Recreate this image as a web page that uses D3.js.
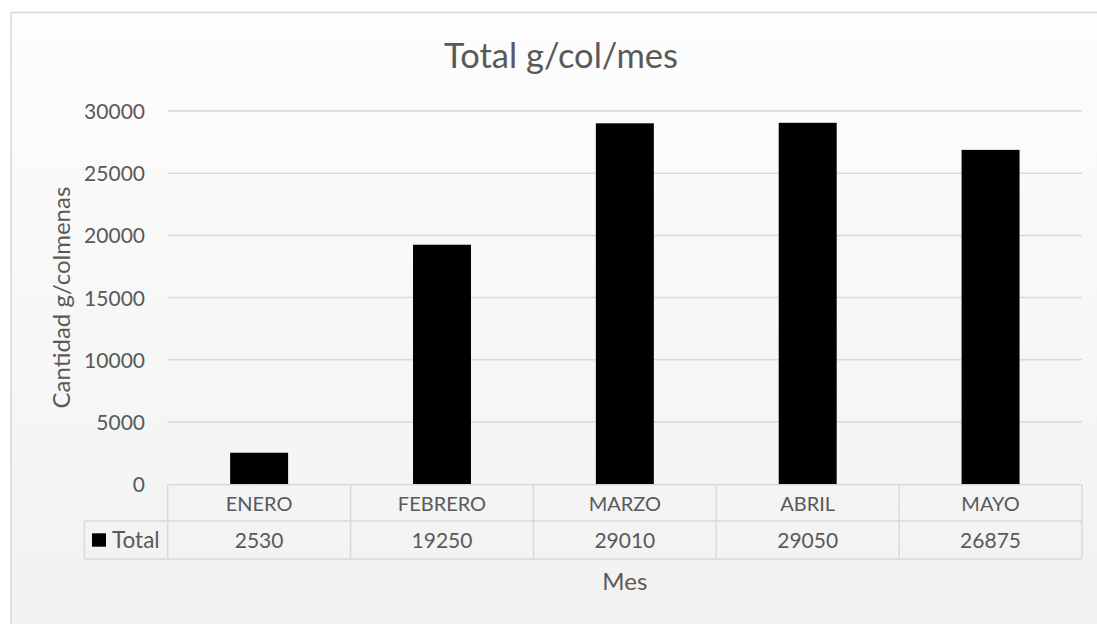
<!DOCTYPE html>
<html>
<head>
<meta charset="utf-8">
<script src="https://cdn.jsdelivr.net/npm/d3@7"></script>
<style>
  html, body { margin: 0; padding: 0; background: #ffffff; }
  svg { display: block; }
  text { font-family: Lato, "Open Sans", sans-serif; fill: #595959; }
</style>
</head>
<body>
<svg id="chart" width="1097" height="624"></svg>
<script>
const categories = ["ENERO", "FEBRERO", "MARZO", "ABRIL", "MAYO"];
const totals = [2530, 19250, 29010, 29050, 26875];
const yTicks = [0, 5000, 10000, 15000, 20000, 25000, 30000];
const seriesName = "Total";
const titleText = "Total g/col/mes";
const xTitle = "Mes";
const yTitle = "Cantidad g/colmenas";

const svg = d3.select("#chart");
const W = 1097, H = 624;

const defs = svg.append("defs");
const grad = defs.append("linearGradient").attr("id", "bg").attr("x1", 0).attr("y1", 0).attr("x2", 0).attr("y2", 1);
grad.append("stop").attr("offset", "0%").attr("stop-color", "#fdfdfd");
grad.append("stop").attr("offset", "100%").attr("stop-color", "#f1f1f1");

// chart area
svg.append("rect")
  .attr("x", 11).attr("y", 12.5).attr("width", W + 20).attr("height", H + 20)
  .attr("fill", "url(#bg)").attr("stroke", "#d9d9d9").attr("stroke-width", 1.5);

const plot = { left: 167.7, right: 1082, top: 111, bottom: 484.2 };

const x = d3.scaleBand().domain(categories).range([plot.left, plot.right]).paddingInner(0.683).paddingOuter(0.3415);
const xCol = d3.scaleBand().domain(categories).range([plot.left, plot.right]).padding(0);
const y = d3.scaleLinear().domain([0, 30000]).range([plot.bottom, plot.top]);

// gridlines
svg.append("g").selectAll("line").data(yTicks.filter(d => d > 0)).join("line")
  .attr("x1", plot.left).attr("x2", plot.right)
  .attr("y1", d => y(d)).attr("y2", d => y(d))
  .attr("stroke", "#d9d9d9").attr("stroke-width", 1.5);

// y axis ticks labels
const yAxis = d3.axisLeft(y).tickValues(yTicks).tickSize(0).tickPadding(0).tickFormat(d3.format("d"));
const yg = svg.append("g").attr("transform", `translate(145,0)`).call(yAxis);
yg.select(".domain").remove();
yg.selectAll("text").attr("font-size", 21).attr("font-family", "Lato, 'Open Sans', sans-serif").attr("fill", "#595959").attr("dy", "0.36em");

// bars
svg.append("g").selectAll("rect").data(totals).join("rect")
  .attr("x", (d, i) => x(categories[i]))
  .attr("width", x.bandwidth())
  .attr("y", d => y(d))
  .attr("height", d => y(0) - y(d))
  .attr("fill", "#000000");

// data table
const row1Top = 484.7, row1Bot = 521, row2Bot = 559, legLeft = 84.3;
const tbl = svg.append("g").attr("stroke", "#d9d9d9").attr("stroke-width", 1.5).attr("fill", "none");
tbl.append("line").attr("x1", plot.left).attr("x2", plot.right).attr("y1", row1Top).attr("y2", row1Top);
tbl.append("line").attr("x1", legLeft).attr("x2", plot.right).attr("y1", row1Bot).attr("y2", row1Bot);
tbl.append("line").attr("x1", legLeft).attr("x2", plot.right).attr("y1", row2Bot).attr("y2", row2Bot);
tbl.append("line").attr("x1", legLeft).attr("x2", legLeft).attr("y1", row1Bot).attr("y2", row2Bot);
const colEdges = categories.map(c => xCol(c)).concat([plot.right]);
tbl.selectAll(".vl").data(colEdges).join("line").attr("class", "vl")
  .attr("x1", d => d).attr("x2", d => d).attr("y1", row1Top).attr("y2", row2Bot);

svg.append("g").selectAll("text").data(categories).join("text")
  .attr("x", d => xCol(d) + xCol.bandwidth() / 2).attr("y", 510.7)
  .attr("text-anchor", "middle").attr("font-size", 20).text(d => d);

svg.append("g").selectAll("text").data(totals).join("text")
  .attr("x", (d, i) => xCol(categories[i]) + xCol.bandwidth() / 2).attr("y", 547.7)
  .attr("text-anchor", "middle").attr("font-size", 21).text(d => d);

svg.append("rect").attr("x", 92).attr("y", 533.3).attr("width", 14).attr("height", 13.4).attr("fill", "#000");
svg.append("text").attr("x", 112).attr("y", 547.7).attr("font-size", 22.5).text(seriesName);

// titles
svg.append("text").attr("x", 561).attr("y", 67.7).attr("text-anchor", "middle").attr("font-size", 34.5).text(titleText);
svg.append("text").attr("x", (plot.left + plot.right) / 2).attr("y", 590).attr("text-anchor", "middle").attr("font-size", 24).text(xTitle);
svg.append("text").attr("transform", `translate(70,${(plot.top + plot.bottom) / 2}) rotate(-90)`)
  .attr("text-anchor", "middle").attr("font-size", 24).text(yTitle);
</script>
</body>
</html>
